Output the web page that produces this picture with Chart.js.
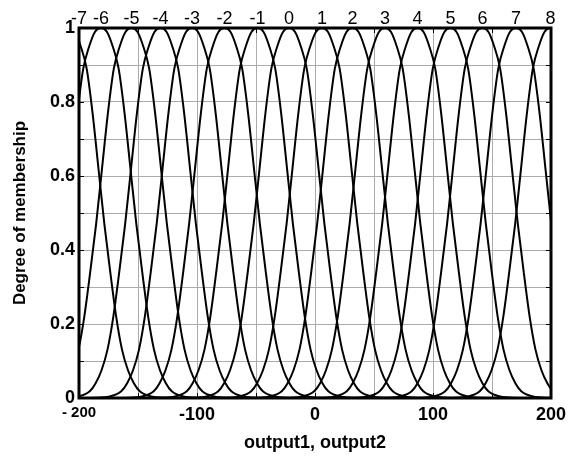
<!DOCTYPE html>
<html>
<head>
<meta charset="utf-8">
<script src="https://cdn.jsdelivr.net/npm/chart.js@4"></script>
<style>html, body { margin: 0; padding: 0; background: #fff; }</style>
</head>
<body>
<canvas id="mf" width="574" height="461"></canvas>
<script>
"use strict";

// membership function names and where each one peaks (output units)
const mfNames = ['-7', '-6', '-5', '-4', '-3', '-2', '-1', '0', '1', '2', '3', '4', '5', '6', '7', '8'];
const mfCenters = [-208.5, -181.4, -155.5, -130.9, -104.2, -76.7, -48.7, -22.0, 5.9, 31.8, 59.3, 86.9, 114.8, 141.9, 170.3, 199.6];

// shape of one bell: distance from the peak -> degree
const shapeOffsets = [0, 5, 10, 15, 20, 25, 30, 35, 40, 45, 50, 55, 60, 70, 85];
const shapeValues = [1, 0.99, 0.95, 0.89, 0.77, 0.62, 0.47, 0.34, 0.22, 0.13, 0.075, 0.04, 0.018, 0.004, 0];

const xGridValues = [-200, -150, -100, -50, 0, 50, 100, 150, 200];
const xTickValues = [-200, -100, 0, 100, 200];
const xTickLabels = ['- 200', '-100', '0', '100', '200'];
const yGridValues = [0, 0.1, 0.2, 0.3, 0.4, 0.5, 0.6, 0.7, 0.8, 0.9, 1];
const yTickValues = [0, 0.2, 0.4, 0.6, 0.8, 1];
const yTickLabels = ['0', '0.2', '0.4', '0.6', '0.8', '1'];

const FONT = '"Liberation Sans", Arial, sans-serif';

function bellPoints(center) {
    const pts = [];
    for (let i = shapeOffsets.length - 1; i > 0; i--) {
        pts.push({ x: center - shapeOffsets[i], y: shapeValues[i] });
    }
    for (let i = 0; i < shapeOffsets.length; i++) {
        pts.push({ x: center + shapeOffsets[i], y: shapeValues[i] });
    }
    return pts;
}

// box, inward ticks and the mf names over the peaks
const frame = {
    id: 'frame',
    afterDatasetsDraw(chart) {
        const { ctx, chartArea: a, scales } = chart;
        ctx.save();
        ctx.strokeStyle = '#000';
        ctx.lineWidth = 1;
        ctx.beginPath();
        xGridValues.forEach(v => {
            const px = Math.round(scales.x.getPixelForValue(v)) + 0.5;
            ctx.moveTo(px, a.top); ctx.lineTo(px, a.top + 5);
            ctx.moveTo(px, a.bottom); ctx.lineTo(px, a.bottom - 5);
        });
        yGridValues.forEach(v => {
            const py = Math.round(scales.y.getPixelForValue(v)) + 0.5;
            ctx.moveTo(a.left, py); ctx.lineTo(a.left + 5, py);
            ctx.moveTo(a.right, py); ctx.lineTo(a.right - 5, py);
        });
        ctx.stroke();
        ctx.lineWidth = 3;
        ctx.strokeRect(a.left, a.top, a.right - a.left, a.bottom - a.top);

        ctx.fillStyle = '#000';
        ctx.font = '18px ' + FONT;
        ctx.textAlign = 'center';
        ctx.textBaseline = 'alphabetic';
        mfCenters.forEach((c, i) => {
            const peak = Math.max(scales.x.min, Math.min(scales.x.max, c));
            ctx.fillText(mfNames[i], scales.x.getPixelForValue(peak), a.top - 4);
        });
        ctx.restore();
    }
};

new Chart(document.getElementById('mf'), {
    type: 'scatter',
    data: {
        datasets: mfCenters.map((c, i) => ({
            label: mfNames[i],
            data: bellPoints(c),
            showLine: true,
            borderColor: '#000',
            borderWidth: 2,
            pointRadius: 0,
            cubicInterpolationMode: 'monotone'
        }))
    },
    options: {
        responsive: false,
        animation: false,
        devicePixelRatio: 1,
        layout: { padding: { top: 28, right: 23, left: 0, bottom: 0 } },
        plugins: { legend: { display: false }, tooltip: { enabled: false } },
        scales: {
            x: {
                type: 'linear',
                min: -200,
                max: 200,
                afterBuildTicks: s => { s.ticks = xGridValues.map(v => ({ value: v })); },
                afterFit: s => { s.height = 63; },
                grid: { color: '#ababab', lineWidth: 1, drawTicks: false },
                border: { display: false },
                ticks: {
                    padding: 6,
                    color: '#000',
                    maxRotation: 0,
                    autoSkip: false,
                    font: ctx => ({ family: FONT, weight: 'bold', size: ctx.tick && ctx.tick.value === -200 ? 15 : 18 }),
                    callback: v => {
                        const k = xTickValues.indexOf(v);
                        return k < 0 ? '' : xTickLabels[k];
                    }
                },
                title: {
                    display: true,
                    text: 'output1, output2',
                    color: '#000',
                    font: { family: FONT, weight: 'bold', size: 18 },
                    padding: { top: 0, bottom: 7 }
                }
            },
            y: {
                type: 'linear',
                min: 0,
                max: 1,
                afterBuildTicks: s => { s.ticks = yGridValues.map(v => ({ value: v })); },
                afterFit: s => { s.width = 79; },
                grid: { color: '#ababab', lineWidth: 1, drawTicks: false },
                border: { display: false },
                ticks: {
                    padding: 4,
                    color: '#000',
                    autoSkip: false,
                    font: { family: FONT, weight: 'bold', size: 18 },
                    callback: v => {
                        const k = yTickValues.findIndex(t => Math.abs(t - v) < 1e-9);
                        return k < 0 ? '' : yTickLabels[k];
                    }
                },
                title: {
                    display: true,
                    text: 'Degree of membership',
                    color: '#000',
                    font: { family: FONT, weight: 'bold', size: 17 },
                    padding: { top: 10, bottom: 0 }
                }
            }
        }
    },
    plugins: [frame]
});
</script>
</body>
</html>
